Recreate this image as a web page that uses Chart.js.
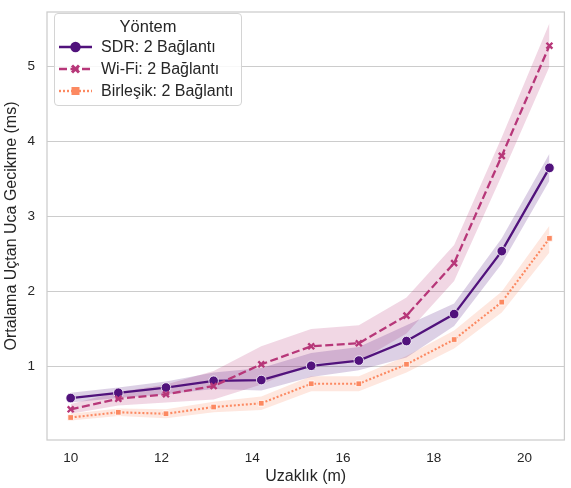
<!DOCTYPE html>
<html>
<head>
<meta charset="utf-8">
<script src="https://cdn.jsdelivr.net/npm/chart.js@4/dist/chart.umd.min.js"></script>
<style>
  body { margin: 0; background: #fff; font-family: "Liberation Sans", Arial, sans-serif; }
  #wrap { position: relative; width: 571px; height: 488px; }
  #legend {
    position: absolute; left: 54px; top: 13px; width: 186px; height: 91px;
    background: rgba(255,255,255,0.85); border: 1px solid #d4d4d4; border-radius: 4px;
    color: #262626; font-size: 16px;
  }
  #legend .title { text-align: center; margin-top: 2px; height: 20px; line-height: 20px; font-size: 16.5px; }
  #legend .row { display: flex; align-items: center; height: 22px; }
  #legend canvas { margin-left: 3px; margin-right: 8px; }
</style>
</head>
<body>
<div id="wrap">
  <canvas id="chart" width="571" height="488"></canvas>
  <div id="legend">
    <div class="title">Yöntem</div>
    <div class="row"><canvas id="lg0" width="35" height="14"></canvas>SDR: 2 Bağlantı</div>
    <div class="row"><canvas id="lg1" width="35" height="14"></canvas>Wi-Fi: 2 Bağlantı</div>
    <div class="row"><canvas id="lg2" width="35" height="14"></canvas>Birleşik: 2 Bağlantı</div>
  </div>
</div>
<script>
const distances = [10, 11.05, 12.1, 13.15, 14.2, 15.3, 16.35, 17.4, 18.45, 19.5, 20.55];

const sdrMean = [0.58, 0.65, 0.72, 0.81, 0.82, 1.01, 1.08, 1.34, 1.70, 2.54, 3.65];
const sdrLow  = [0.52, 0.58, 0.63, 0.70, 0.68, 0.86, 0.95, 1.12, 1.54, 2.37, 3.48];
const sdrHigh = [0.65, 0.72, 0.80, 0.92, 0.98, 1.18, 1.26, 1.55, 1.84, 2.71, 3.84];

const wifiMean = [0.43, 0.57, 0.63, 0.74, 1.03, 1.27, 1.31, 1.68, 2.38, 3.81, 5.28];
const wifiLow  = [0.37, 0.48, 0.52, 0.56, 0.76, 1.04, 1.07, 1.44, 2.14, 3.55, 5.00];
const wifiHigh = [0.50, 0.66, 0.76, 0.94, 1.27, 1.50, 1.55, 1.92, 2.62, 4.06, 5.58];

const combMean = [0.32, 0.39, 0.37, 0.46, 0.51, 0.77, 0.77, 1.03, 1.36, 1.86, 2.71];
const combLow  = [0.28, 0.34, 0.31, 0.39, 0.42, 0.67, 0.67, 0.92, 1.24, 1.72, 2.52];
const combHigh = [0.37, 0.44, 0.43, 0.53, 0.60, 0.87, 0.87, 1.14, 1.48, 2.00, 2.88];

const xTicks = [10, 12, 14, 16, 18, 20];
const yTicks = [1, 2, 3, 4, 5];

const seriesNames = ['SDR: 2 Bağlantı', 'Wi-Fi: 2 Bağlantı', 'Birleşik: 2 Bağlantı'];
const colors = ['#51127c', '#b73779', '#fc8961'];
const bandColors = ['rgba(81,18,124,0.2)', 'rgba(183,55,121,0.2)', 'rgba(252,137,97,0.2)'];
const dashes = [[], [8, 3.5], [2, 2]];

function pts(ys) {
  return distances.map((x, i) => ({ x: x, y: ys[i] }));
}

function band(lo, hi, k) {
  return [
    { data: pts(lo), borderWidth: 0, pointRadius: 0, fill: false, order: 10 + k, tension: 0 },
    { data: pts(hi), borderWidth: 0, pointRadius: 0, fill: { target: 2 * k }, backgroundColor: bandColors[k], order: 10 + k, tension: 0 }
  ];
}

const datasets = [
  ...band(sdrLow, sdrHigh, 0),
  ...band(wifiLow, wifiHigh, 1),
  ...band(combLow, combHigh, 2),
  {
    label: seriesNames[0], data: pts(sdrMean), borderColor: colors[0], borderWidth: 2.3,
    pointStyle: 'circle', pointRadius: 4.8, pointBackgroundColor: colors[0],
    pointBorderColor: '#fff', pointBorderWidth: 0.8, fill: false, order: 2, tension: 0
  },
  {
    label: seriesNames[1], data: pts(wifiMean), borderColor: colors[1], borderWidth: 2.3,
    borderDash: dashes[1], pointStyle: 'crossRot', pointRadius: 4.2, pointBorderColor: colors[1],
    pointBorderWidth: 2.4, fill: false, order: 1, tension: 0
  },
  {
    label: seriesNames[2], data: pts(combMean), borderColor: colors[2], borderWidth: 2.1,
    borderDash: dashes[2], pointStyle: 'rect', pointRadius: 4, pointBackgroundColor: colors[2],
    pointBorderColor: '#fff', pointBorderWidth: 0.8, fill: false, order: 0, tension: 0
  }
];

const frame = {
  id: 'frame',
  afterDraw(chart) {
    const a = chart.chartArea, ctx = chart.ctx;
    ctx.save();
    ctx.strokeStyle = '#cccccc';
    ctx.lineWidth = 1.25;
    ctx.strokeRect(a.left, a.top, a.right - a.left, a.bottom - a.top);
    ctx.restore();
  }
};

const tickFont = { family: '"Liberation Sans", Arial, sans-serif', size: 13.5 };
const titleFont = { family: '"Liberation Sans", Arial, sans-serif', size: 16 };

new Chart(document.getElementById('chart'), {
  type: 'line',
  data: { datasets: datasets },
  plugins: [frame],
  options: {
    responsive: false,
    animation: false,
    layout: { padding: { top: 12, right: 0, left: 0, bottom: 0 } },
    scales: {
      x: {
        type: 'linear', min: 9.478, max: 20.88,
        afterBuildTicks: s => { s.ticks = xTicks.map(v => ({ value: v })); },
        afterFit: s => { s.height = 48; s.paddingLeft = 0; s.paddingRight = 0; },
        grid: { display: false, drawTicks: false },
        border: { display: false },
        ticks: { font: tickFont, color: '#262626', padding: 10, maxRotation: 0 },
        title: { display: true, text: 'Uzaklık (m)', font: titleFont, color: '#262626', padding: { top: 0, bottom: 2 } }
      },
      y: {
        min: 0.02, max: 5.73,
        afterBuildTicks: s => { s.ticks = yTicks.map(v => ({ value: v })); },
        afterFit: s => { s.width = 47; s.paddingTop = 0; s.paddingBottom = 0; },
        grid: { color: '#cccccc', lineWidth: 1.1, drawTicks: false },
        border: { display: false },
        ticks: { font: tickFont, color: '#262626', padding: 12 },
        title: { display: true, text: 'Ortalama Uçtan Uca Gecikme (ms)', font: titleFont, color: '#262626', padding: { top: 2, bottom: 0 } }
      }
    },
    plugins: {
      legend: { display: false },
      tooltip: { enabled: false },
      filler: { propagate: false }
    }
  }
});

// legend samples
const shapes = ['circle', 'cross', 'square'];
for (let k = 0; k < 3; k++) {
  const c = document.getElementById('lg' + k).getContext('2d');
  c.strokeStyle = colors[k];
  c.lineWidth = 2.4;
  c.setLineDash(dashes[k]);
  c.beginPath(); c.moveTo(1, 7); c.lineTo(34, 7); c.stroke();
  c.setLineDash([]);
  if (shapes[k] === 'circle') {
    c.fillStyle = colors[k];
    c.beginPath(); c.arc(17.5, 7, 5.2, 0, Math.PI * 2); c.fill();
  } else if (shapes[k] === 'cross') {
    c.lineWidth = 3;
    c.beginPath(); c.moveTo(14, 3.5); c.lineTo(21, 10.5); c.moveTo(21, 3.5); c.lineTo(14, 10.5); c.stroke();
  } else {
    c.fillStyle = colors[k];
    c.fillRect(13.5, 3, 8, 8);
  }
}
</script>
</body>
</html>
